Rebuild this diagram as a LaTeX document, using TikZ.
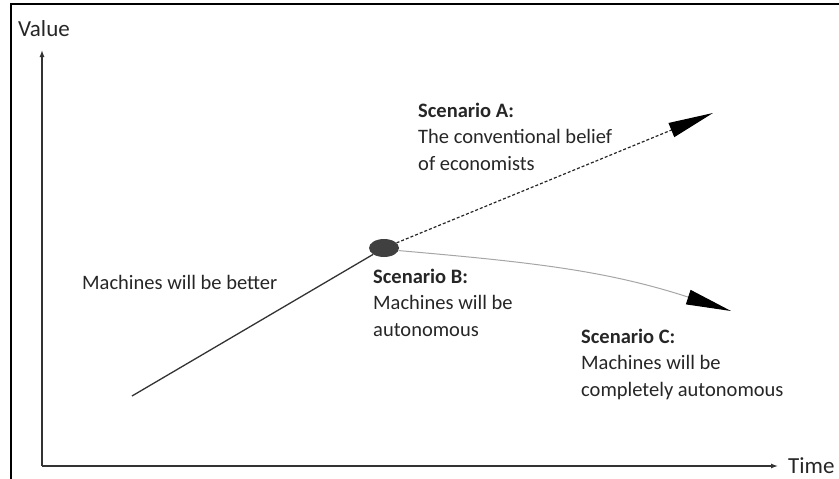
\documentclass[tikz,border=0pt]{standalone}
\usepackage{fontspec}
\setmainfont{Carlito}
\usetikzlibrary{arrows.meta,shapes.geometric}

\begin{document}
\begin{tikzpicture}[x=1pt,y=-1pt,txt/.style={anchor=base west,align=left,inner sep=0pt,text=black!85,font=\fontsize{20.5}{26.5}\selectfont},axlabel/.style={anchor=base west,inner sep=0pt,text=black!85,font=\fontsize{23}{28}\selectfont},axis/.style={draw=black!80,line width=1.3pt,-{Latex[length=7pt,width=5pt]}},head/.style={-{Triangle[length=45pt,width=15pt,color=black]}}]
\useasboundingbox (0,0) rectangle (839,479);
\draw[line width=1.2pt] (11,479) -- (11,4) -- (839,4);
\coordinate (origin) at (42,466);
\coordinate (ytop) at (42,50);
\coordinate (xend) at (778,466);
\draw[axis] (origin) -- (ytop);
\draw[axis] (origin) -- (xend);
\node[axlabel] (value) at (18,36) {Value};
\node[axlabel] (time) at (788,473) {Time};
\coordinate (start) at (132,396);
\node[ellipse,fill=black!75,minimum width=30pt,minimum height=18pt,inner sep=0pt] (dot) at (384,248) {};
\coordinate (tipA) at (713,113);
\coordinate (tipC) at (731,311);
\draw[draw=black!80,line width=1.3pt] (start) -- (dot);
\draw[head,draw=black!85,line width=1.2pt,dash pattern=on 3pt off 2pt] (dot) -- (tipA);
\draw[head,draw=black!35,line width=1pt] (dot.-10) to[out=-5,in=162] (tipC);
% multi-line nodes sit on the baseline of their last line
\node[txt] (better) at (82,289) {Machines will be better};
\node[txt] (scenA) at (418,170) {\textbf{Scenario A:}\\The conventional belief\\of economists};
\node[txt] (scenB) at (373,336) {\textbf{Scenario B:}\\Machines will be\\autonomous};
\node[txt] (scenC) at (581,396) {\textbf{Scenario C:}\\Machines will be\\completely autonomous};
\end{tikzpicture}
\end{document}
